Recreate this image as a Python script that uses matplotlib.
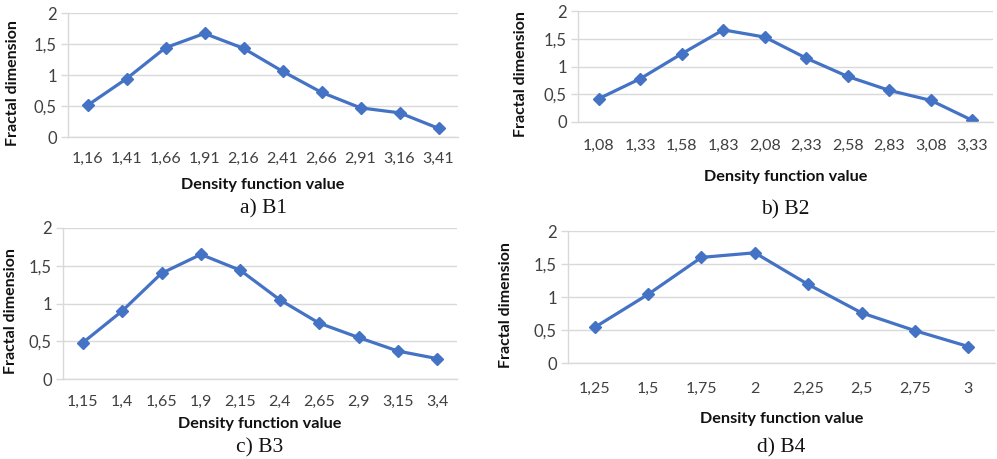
import matplotlib
matplotlib.use("Agg")
import matplotlib.pyplot as plt
import numpy as np

W, H = 997, 459

cats_b1 = ["1,16", "1,41", "1,66", "1,91", "2,16", "2,41", "2,66", "2,91", "3,16", "3,41"]
vals_b1 = [0.51, 0.94, 1.44, 1.67, 1.43, 1.06, 0.72, 0.47, 0.39, 0.14]

cats_b2 = ["1,08", "1,33", "1,58", "1,83", "2,08", "2,33", "2,58", "2,83", "3,08", "3,33"]
vals_b2 = [0.42, 0.78, 1.23, 1.66, 1.53, 1.15, 0.82, 0.57, 0.39, 0.03]

cats_b3 = ["1,15", "1,4", "1,65", "1,9", "2,15", "2,4", "2,65", "2,9", "3,15", "3,4"]
vals_b3 = [0.48, 0.90, 1.40, 1.65, 1.44, 1.05, 0.74, 0.55, 0.37, 0.27]

cats_b4 = ["1,25", "1,5", "1,75", "2", "2,25", "2,5", "2,75", "3"]
vals_b4 = [0.54, 1.04, 1.60, 1.67, 1.19, 0.76, 0.49, 0.25]

yticks = [0, 0.5, 1, 1.5, 2]
ytick_labels = ["0", "0,5", "1", "1,5", "2"]

captions = ["a) B1", "b) B2", "c) B3", "d) B4"]
xlabel = "Density function value"
ylabel = "Fractal dimension"

# pixel boxes: left, right, top, bottom (plot area), tick label y, xlabel y, caption y, ylabel x
panels = [
    (cats_b1, vals_b1, (68, 458, 13, 137), 160, 185, 209, 13),
    (cats_b2, vals_b2, (578, 993, 11, 122), 147, 177, 210, 521),
    (cats_b3, vals_b3, (63, 457, 228, 379), 403, 424, 448, 11),
    (cats_b4, vals_b4, (568, 995, 231, 363), 390, 419, 448, 506),
]

plt.rcParams['font.family'] = ['Lato', 'DejaVu Sans']
fig = plt.figure(figsize=(W / 100, H / 100), dpi=100)
fig.patch.set_facecolor('white')

blue = '#4472C4'
grid = '#D9D9D9'

for (cats, vals, (l, r, t, b), ty, xly, cy, ylx), cap in zip(panels, captions):
    ax = fig.add_axes([l / W, 1 - b / H, (r - l) / W, (b - t) / H])
    x = np.arange(len(cats))
    ax.plot(x, vals, color=blue, lw=2.3, marker='D', markersize=6.2,
            markerfacecolor=blue, markeredgecolor=blue, solid_joinstyle='round')
    ax.set_xlim(-0.5, len(cats) - 0.5)
    ax.set_ylim(0, 2)
    ax.set_yticks(yticks)
    ax.set_yticklabels(ytick_labels, fontsize=12, color='#404040')
    ax.set_xticks(x)
    ax.set_xticklabels(cats, fontsize=11.5, color='#404040')
    ax.tick_params(axis='x', length=0, pad=(ty - b) * 0.72 - 6)
    ax.tick_params(axis='y', length=5, color=grid, width=1, pad=3)
    for s in ['top', 'right']:
        ax.spines[s].set_visible(False)
    ax.spines['left'].set_color(grid)
    ax.spines['bottom'].set_color(grid)
    ax.spines['left'].set_linewidth(1)
    ax.spines['bottom'].set_linewidth(1)
    ax.yaxis.grid(True, color=grid, lw=1)
    ax.set_axisbelow(True)
    cx = (l + r) / 2 / W
    fig.text(cx, 1 - xly / H, xlabel, ha='center', va='center', fontsize=11.7,
             fontweight='bold', color='#111111')
    fig.text(ylx / W, 1 - (t + b + 16) / 2 / H, ylabel, ha='center', va='center',
             fontsize=11.5, fontweight='bold', rotation=90, color='#111111')
    fig.text(cx, 1 - cy / H, cap, ha='center', va='center', fontsize=15.5,
             family='Liberation Serif', color='#111111')

fig.savefig('out.png', dpi=100, facecolor='white')
